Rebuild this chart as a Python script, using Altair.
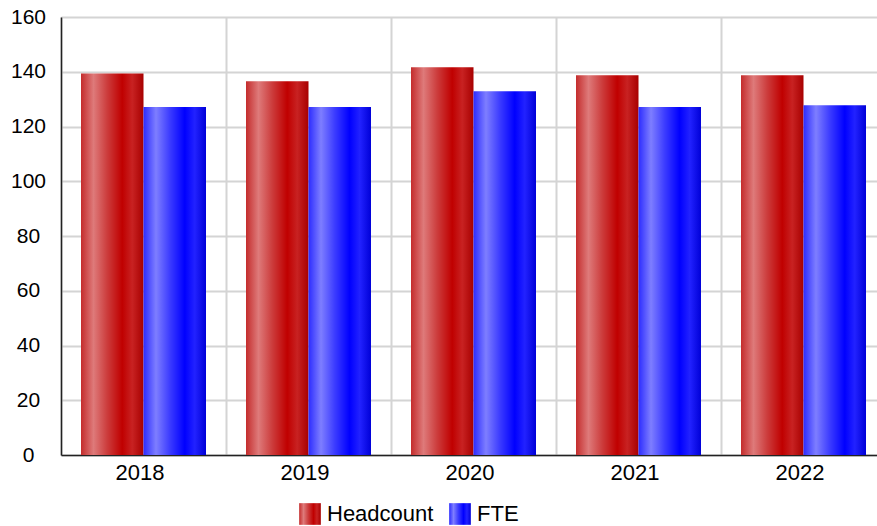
import altair as alt
import pandas as pd

# Staff numbers per year
years = ["2018", "2019", "2020", "2021", "2022"]
headcount = [139.4, 136.5, 141.6, 138.7, 138.7]
fte = [127.1, 127.1, 132.9, 127.1, 127.8]
series_names = ["Headcount", "FTE"]

rows = []
for i, yr in enumerate(years):
    rows.append({"year": yr, "series": series_names[0], "value": headcount[i]})
    rows.append({"year": yr, "series": series_names[1], "value": fte[i]})
df = pd.DataFrame(rows)


def sheen_stops(edge, light, mid, base, rim, dark):
    return [
        {"offset": 0.0, "color": edge},
        {"offset": 0.2, "color": light},
        {"offset": 0.42, "color": mid},
        {"offset": 0.66, "color": base},
        {"offset": 0.82, "color": rim},
        {"offset": 1.0, "color": dark},
    ]


red_stops = sheen_stops("#c42c2c", "#de7a7a", "#cc3c3c", "#c00000", "#c82222", "#a80000")
blue_stops = sheen_stops("#2c2cff", "#7e7eff", "#3c3cff", "#0000ff", "#2222ff", "#0000d8")


def gradient_expr(stops):
    parts = ",".join("{offset:%s,color:'%s'}" % (s["offset"], s["color"]) for s in stops)
    return "{gradient:'linear',x1:0,y1:0,x2:1,y2:0,stops:[%s]}" % parts


# each series is filled with a horizontal sheen; the legend swatches share the scale
fill_range = [alt.ExprRef(expr=gradient_expr(red_stops)),
              alt.ExprRef(expr=gradient_expr(blue_stops))]

x_enc = alt.X(
    "year:N", sort=years, title=None,
    scale=alt.Scale(range=[0, 825], paddingInner=0, paddingOuter=0),
    axis=alt.Axis(tickBand="extent", grid=True, ticks=False, labelAngle=0,
                  labelOffset=-4, labelPadding=7, labelFontSize=22),
)
xoff_enc = alt.XOffset("series:N", sort=series_names,
                       scale=alt.Scale(paddingInner=0, paddingOuter=0.32))
y_enc = alt.Y(
    "value:Q", title=None,
    scale=alt.Scale(domain=[0, 160], nice=False),
    axis=alt.Axis(values=list(range(0, 161, 20)), grid=True, ticks=False, tickSize=0,
                  labelAlign="center", labelPadding=33, labelFontSize=21),
)

legend = alt.Legend(
    title=None, orient="none", legendX=238, legendY=486, direction="horizontal",
    symbolType="square", symbolSize=470, symbolStrokeWidth=0,
    labelFontSize=22, labelColor="#000000", labelOffset=6, columnPadding=15,
    padding=0,
)

bars = alt.Chart(df).mark_bar().encode(
    x=x_enc, xOffset=xoff_enc, y=y_enc,
    fill=alt.Fill("series:N", sort=series_names,
                  scale=alt.Scale(domain=series_names, range=fill_range),
                  legend=legend),
)

chart = bars.properties(
    width=816, height=438,
    padding={"left": 61, "top": 17, "right": 0, "bottom": 71},
    autosize=alt.AutoSizeParams(type="none"),
).configure(
    font="Liberation Sans",
).configure_view(
    stroke=None,
).configure_axis(
    gridColor="#d4d4d4", gridWidth=2,
    domainColor="#222222", domainWidth=1.5,
    labelColor="#000000", labelFont="Liberation Sans",
)

chart.save("out.html", embed_options={"renderer": "svg", "actions": False})
